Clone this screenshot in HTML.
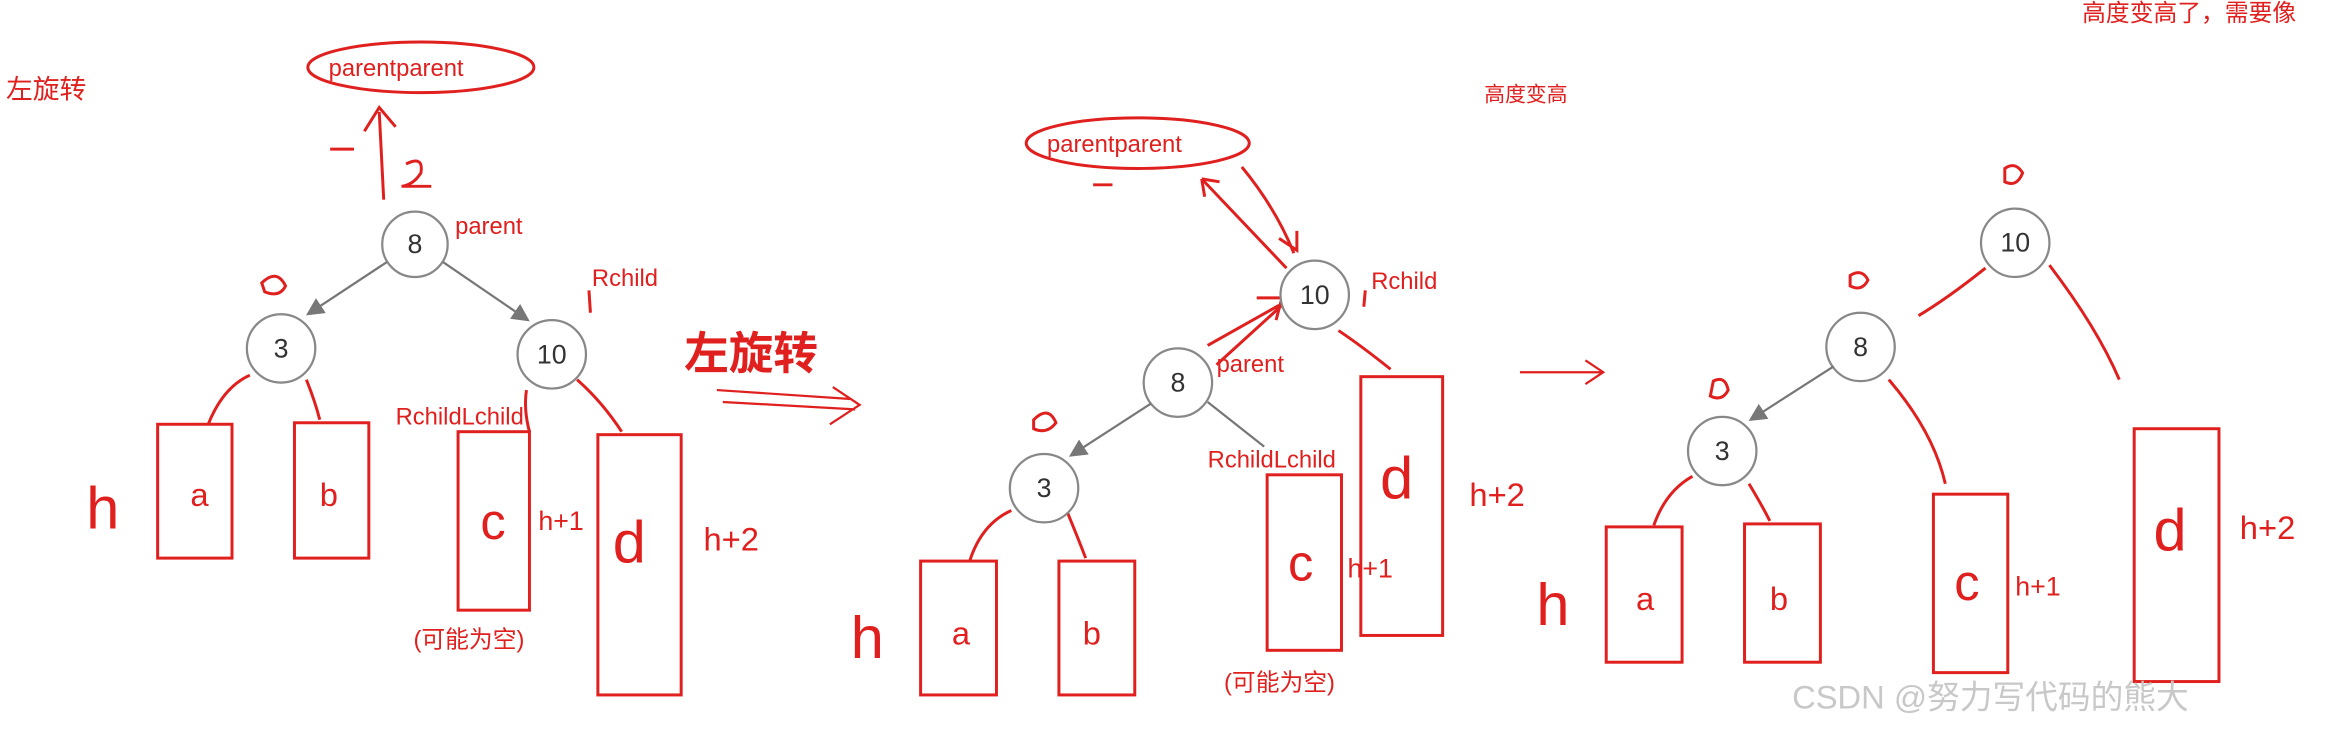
<!DOCTYPE html>
<html><head><meta charset="utf-8"><style>
html,body{margin:0;padding:0;background:#fff;width:2332px;height:734px;overflow:hidden}
svg{display:block}
text{font-family:"Liberation Sans","Noto Sans CJK SC",sans-serif}
</style></head><body>
<svg width="2332" height="734" viewBox="0 0 1568 493" xmlns="http://www.w3.org/2000/svg">
<defs><marker id="ga" markerWidth="8" markerHeight="8" refX="7" refY="4" orient="auto"><path d="M0,0 L8,4 L0,8 z" fill="#777"/></marker></defs>
<g fill="#e0201e" font-size="16">
<text x="1400" y="14">高度变高了，需要像</text>
<text x="998" y="68" font-size="14">高度变高</text>
<text x="4" y="66" font-size="18">左旋转</text>
</g>
<!-- LEFT -->
<ellipse cx="283" cy="45" rx="76" ry="17" fill="none" stroke="#e0201e" stroke-width="2"/>
<text x="221" y="51" font-size="16" fill="#e0201e">parentparent</text>
<g fill="none" stroke="#e0201e" stroke-width="2">
<path d="M258 134 L255 75 M245 88 L255 72 L266 85"/>
<path d="M273 110 Q285 104 283 116 Q278 124 270 125 L290 125"/>
<path d="M222 100 L238 100" />
<rect x="106" y="285" width="50" height="90"/><rect x="198" y="284" width="50" height="91"/>
<rect x="308" y="290" width="48" height="120"/><rect x="402" y="292" width="56" height="175"/>
<path d="M140 285 Q150 260 168 252"/><path d="M206 255 Q212 270 215 282"/>
<path d="M356 290 Q352 275 354 262"/><path d="M388 255 Q405 270 418 290"/>
<path d="M397 210 L396 195"/>
<path d="M176 190 Q186 180 192 192 Q188 200 178 196 Z"/>
</g>
<g fill="#fff" stroke="#888" stroke-width="1.5">
<circle cx="279" cy="164" r="22"/><circle cx="189" cy="234" r="23"/><circle cx="371" cy="238" r="23"/>
</g>
<g stroke="#777" stroke-width="1.5"><line x1="260" y1="176" x2="207" y2="211" marker-end="url(#ga)"/><line x1="298" y1="176" x2="355" y2="215" marker-end="url(#ga)"/></g>
<g font-size="18" fill="#333" text-anchor="middle"><text x="279" y="170">8</text><text x="189" y="240">3</text><text x="371" y="244">10</text></g>
<g fill="#e0201e" font-size="16">
<text x="306" y="157">parent</text><text x="398" y="192">Rchild</text><text x="266" y="285">RchildLchild</text>
<text x="278" y="435">(可能为空)</text>
<text x="58" y="355" font-size="40">h</text><text x="128" y="340" font-size="22">a</text><text x="215" y="340" font-size="22">b</text>
<text x="323" y="362" font-size="34">c</text><text x="412" y="378" font-size="40">d</text>
<text x="362" y="356" font-size="18">h+1</text><text x="473" y="370" font-size="22">h+2</text>
<text x="460" y="248" font-size="30" font-weight="bold">左旋转</text>
</g>
<g stroke="#e0201e" stroke-width="1.5" fill="none"><path d="M482 262 L572 268 M486 270 L575 275 M560 260 L578 272 L558 285"/></g>
<!-- MIDDLE -->
<ellipse cx="765" cy="96" rx="75" ry="17" fill="none" stroke="#e0201e" stroke-width="2"/>
<text x="704" y="102" font-size="16" fill="#e0201e">parentparent</text>
<g fill="none" stroke="#e0201e" stroke-width="2">
<path d="M808 120 L865 180 M808 120 L810 132 M808 120 L820 122"/>
<path d="M835 112 Q858 140 870 170 M860 160 L872 168 L872 155"/>
<path d="M812 232 L860 205 M818 245 L862 205 M845 200 L862 200 L858 215"/>
<path d="M735 124 L748 124"/>
<rect x="619" y="377" width="51" height="90"/><rect x="712" y="377" width="51" height="90"/>
<rect x="852" y="319" width="50" height="118"/><rect x="915" y="253" width="55" height="174"/>
<path d="M652 377 Q660 352 680 343"/><path d="M718 345 Q725 362 730 375"/>
<path d="M900 222 Q915 232 935 248"/><path d="M918 195 L917 206"/>
<path d="M695 282 Q705 272 710 284 Q704 292 695 288 Z"/>
</g>
<g fill="#fff" stroke="#888" stroke-width="1.5">
<circle cx="884" cy="198" r="23"/><circle cx="792" cy="257" r="23"/><circle cx="702" cy="328" r="23"/>
</g>
<g stroke="#777" stroke-width="1.5"><line x1="774" y1="271" x2="720" y2="306" marker-end="url(#ga)"/><line x1="812" y1="270" x2="850" y2="300"/></g>
<g font-size="18" fill="#333" text-anchor="middle"><text x="884" y="204">10</text><text x="792" y="263">8</text><text x="702" y="334">3</text></g>
<g fill="#e0201e" font-size="16">
<text x="922" y="194">Rchild</text><text x="818" y="250">parent</text><text x="812" y="314">RchildLchild</text>
<text x="823" y="464">(可能为空)</text>
<text x="572" y="442" font-size="40">h</text><text x="640" y="433" font-size="22">a</text><text x="728" y="433" font-size="22">b</text>
<text x="866" y="390" font-size="34">c</text><text x="928" y="335" font-size="40">d</text>
<text x="906" y="388" font-size="18">h+1</text><text x="988" y="340" font-size="22">h+2</text>
</g>
<g stroke="#e0201e" stroke-width="1.5" fill="none"><path d="M1022 250 L1078 250 M1066 242 L1078 250 L1066 258"/></g>
<!-- RIGHT -->
<g fill="none" stroke="#e0201e" stroke-width="2">
<rect x="1080" y="354" width="51" height="91"/><rect x="1173" y="352" width="51" height="93"/>
<rect x="1300" y="332" width="50" height="120"/><rect x="1435" y="288" width="57" height="170"/>
<path d="M1112 353 Q1120 330 1138 320"/><path d="M1176 325 Q1185 340 1190 350"/>
<path d="M1270 255 Q1300 290 1308 325"/><path d="M1335 180 Q1310 200 1290 212"/>
<path d="M1378 178 Q1410 220 1425 255"/>
<path d="M1348 113 Q1355 108 1360 116 Q1356 126 1348 122 Z"/>
<path d="M1244 185 Q1252 180 1256 188 Q1252 196 1244 192 Z"/>
<path d="M1152 256 Q1160 252 1162 262 Q1158 270 1150 266 Z"/>
</g>
<g fill="#fff" stroke="#888" stroke-width="1.5">
<circle cx="1355" cy="163" r="23"/><circle cx="1251" cy="233" r="23"/><circle cx="1158" cy="303" r="23"/>
</g>
<g stroke="#777" stroke-width="1.5"><line x1="1233" y1="246" x2="1177" y2="282" marker-end="url(#ga)"/></g>
<g font-size="18" fill="#333" text-anchor="middle"><text x="1355" y="169">10</text><text x="1251" y="239">8</text><text x="1158" y="309">3</text></g>
<g fill="#e0201e" font-size="16">
<text x="1033" y="420" font-size="40">h</text><text x="1100" y="410" font-size="22">a</text><text x="1190" y="410" font-size="22">b</text>
<text x="1314" y="403" font-size="34">c</text><text x="1448" y="370" font-size="40">d</text>
<text x="1355" y="400" font-size="18">h+1</text><text x="1506" y="362" font-size="22">h+2</text>
</g>
<text x="1205" y="476" font-size="22" fill="#c8c8c8">CSDN @努力写代码的熊大</text>
</svg>
</body></html>
